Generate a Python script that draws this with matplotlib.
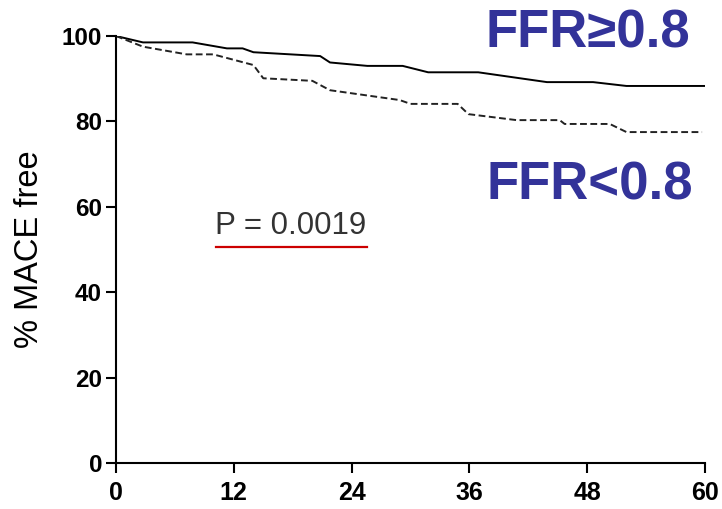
import numpy as np
import matplotlib
matplotlib.use('Agg')
import matplotlib.pyplot as plt

plt.rcParams['font.family'] = ['Liberation Sans', 'DejaVu Sans']

# Kaplan-Meier curves (months, % MACE free)
months_hi = [0, 2.75, 7.8, 11.3, 12.9, 14, 20.8, 21.8, 25.6, 29.2, 31.8, 36.9, 43.9, 48.6, 52, 60]
free_hi = [100, 98.5, 98.5, 97.1, 97.1, 96.2, 95.3, 93.8, 93.0, 93.0, 91.5, 91.5, 89.2, 89.2, 88.3, 88.3]

months_lo = [0, 2.75, 7.2, 9.9, 14, 15, 20, 21.8, 28.9, 30, 34.8, 35.9, 40.8, 45.2, 45.7, 50.3, 52, 59.7]
free_lo = [100, 97.5, 95.7, 95.7, 93.2, 90.1, 89.5, 87.3, 85.0, 84.1, 84.1, 81.7, 80.3, 80.3, 79.4, 79.4, 77.5, 77.5]

xticks = [0, 12, 24, 36, 48, 60]
yticks = [0, 20, 40, 60, 80, 100]

fig = plt.figure(figsize=(7.22, 5.09), dpi=100)
fig.patch.set_facecolor('white')
ax1 = fig.add_axes([116/722, 1-463/509, (705-116)/722, (463-36)/509])

ax1.plot(months_hi, free_hi, color='black', lw=1.4)
ax1.plot(months_lo, free_lo, color='#222222', lw=1.4, dashes=(3.5, 1.8))

ax1.set_xlim(0, 60)
ax1.set_ylim(0, 100)
ax1.set_xticks(xticks)
ax1.set_yticks(yticks)
for s in ['top', 'right']:
    ax1.spines[s].set_visible(False)
for s in ['left', 'bottom']:
    ax1.spines[s].set_linewidth(1.5)
ax1.tick_params(direction='out', length=7, width=1.5, pad=3)
ax1.tick_params(axis='x', pad=6)
for lab in ax1.get_xticklabels():
    lab.set_fontweight('bold')
    lab.set_fontsize(18)
for lab in ax1.get_yticklabels():
    lab.set_fontweight('bold')
    lab.set_fontsize(17.5)
ax1.set_ylabel('% MACE free', fontsize=23.5, labelpad=12)

blue = '#333399'
fig.text(690/722, 1-34/509, 'FFR≥0.8', color=blue, fontsize=38, fontweight='bold',
         ha='right', va='center')
fig.text(693/722, 1-185/509, 'FFR<0.8', color=blue, fontsize=38, fontweight='bold',
         ha='right', va='center')

ax1.text(10.1, 53.6, 'P = 0.0019', color='#333333', fontsize=22.5, ha='left', va='baseline')
ax1.plot([10.2, 25.6], [50.6, 50.6], color='#cc0000', lw=1.6, clip_on=False)

fig.savefig('out.png', dpi=100)
